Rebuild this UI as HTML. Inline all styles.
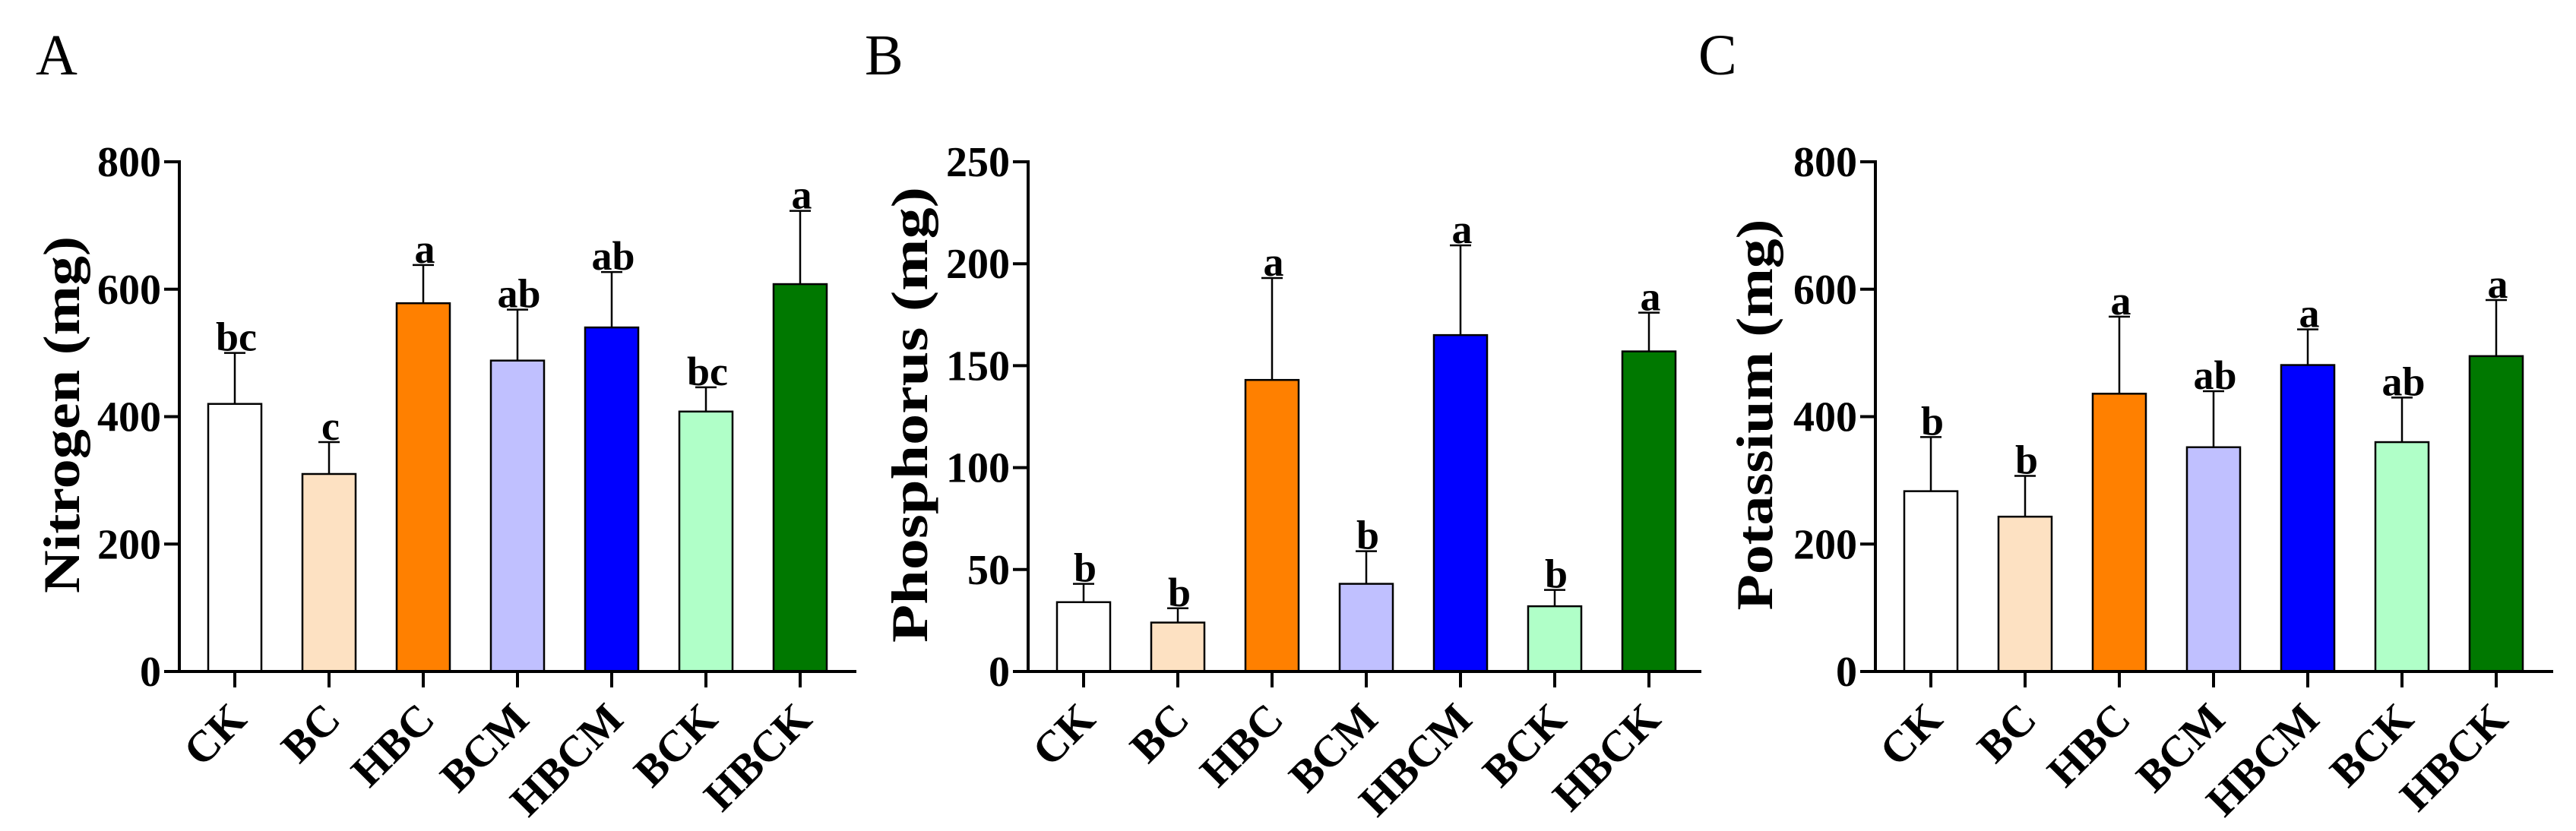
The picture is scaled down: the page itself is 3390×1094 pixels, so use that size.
<!DOCTYPE html>
<html><head><meta charset="utf-8"><style>
html,body{margin:0;padding:0;background:#fff;}
svg{display:block;font-family:"Liberation Serif",serif;}
</style></head><body>
<svg id="chart" width="3390" height="1094" viewBox="0 0 3390 1094" xmlns="http://www.w3.org/2000/svg"></svg>
<script>
const categories = ["CK","BC","HBC","BCM","HBCM","BCK","HBCK"];
const colors = ["#ffffff","#fde1c2","#ff8000","#c0c0ff","#0000ff","#b0ffc8","#007800"];
const nitrogenValues = [420,310,578,488,540,408,608];
const nitrogenErrors = [80,50,60,80,87,38,115];
const nitrogenLetters = ["bc","c","a","ab","ab","bc","a"];
const phosphorusValues = [34,24,143,43,165,32,157];
const phosphorusErrors = [9,7,50,16,44,8,19];
const phosphorusLetters = ["b","b","a","b","a","b","a"];
const potassiumValues = [283,243,436,352,481,360,495];
const potassiumErrors = [85,64,121,88,56,70,88];
const potassiumLetters = ["b","b","a","ab","a","ab","a"];
const nitrogenTicks = [0,200,400,600,800];
const phosphorusTicks = [0,50,100,150,200,250];
const potassiumTicks = [0,200,400,600,800];

const NS="http://www.w3.org/2000/svg";
const svg=document.getElementById('chart');
function mk(tag,attrs,parent){const e=document.createElementNS(NS,tag);for(const k in attrs)e.setAttribute(k,attrs[k]);(parent||svg).appendChild(e);return e;}

const panels=[
 {id:"a",letter:"A",lx:47,ax:236,end:1127,title:"Nitrogen (mg)",tx:86,len:470,vals:nitrogenValues,errs:nitrogenErrors,lets:nitrogenLetters,ticks:nitrogenTicks,max:800},
 {id:"b",letter:"B",lx:1138,ax:1353,end:2239,title:"Phosphorus (mg)",tx:1202,len:600,vals:phosphorusValues,errs:phosphorusErrors,lets:phosphorusLetters,ticks:phosphorusTicks,max:250},
 {id:"c",letter:"C",lx:2235,ax:2468,end:3360,title:"Potassium (mg)",tx:2314,len:515,vals:potassiumValues,errs:potassiumErrors,lets:potassiumLetters,ticks:potassiumTicks,max:800}
];
const y0=884,yTop=213,step=124,barW=70;
panels.forEach(p=>{
  const g=mk('g',{});
  
  
  const yS=v=>y0-(v/p.max)*(y0-yTop);
  const xS=i=>p.ax+73+i*step;
  const L=mk('text',{x:p.lx,y:98,'font-size':76},g);L.textContent=p.letter;
  
  
  p.vals.forEach((v,i)=>{
    const cx=xS(i), top=yS(v), et=yS(v+p.errs[i]);
    const eb=mk('line',{x1:cx,x2:cx,y1:top,y2:et,stroke:'#000','stroke-width':2.5},g);
    
    
    mk('line',{x1:cx-14,x2:cx+14,y1:et,y2:et,stroke:'#000','stroke-width':2.5},g);
    const r=mk('rect',{x:cx-barW/2,y:top,width:barW,height:y0-top,fill:colors[i],stroke:'#000','stroke-width':2.5},g);
    
    
    const t=mk('text',{x:cx+2,y:et-3,'font-size':54,'font-weight':'bold','text-anchor':'middle'},g);
    t.textContent=p.lets[i];
    
    
    mk('line',{x1:cx,x2:cx,y1:y0,y2:905,stroke:'#000','stroke-width':4},g);
    const xl=mk('text',{x:0,y:0,'font-size':58,'font-weight':'bold','text-anchor':'end',transform:`translate(${cx+18},${950}) rotate(-45)`},g);
    xl.textContent=categories[i];
    
    
  });
  const ya=mk('line',{x1:p.ax,x2:p.ax,y1:yTop-2,y2:y0+2,stroke:'#000','stroke-width':4},g);
  
  
  const xa=mk('line',{x1:p.ax-2,x2:p.end,y1:y0,y2:y0,stroke:'#000','stroke-width':4},g);
  
  
  p.ticks.forEach(tv=>{
    const y=yS(tv);
    mk('line',{x1:p.ax-20,x2:p.ax,y1:y,y2:y,stroke:'#000','stroke-width':4},g);
    const tl=mk('text',{x:p.ax-24,y:y+19,'font-size':56,'font-weight':'bold','text-anchor':'end'},g);
    tl.textContent=tv;
    
    
  });
  const yt=mk('text',{x:0,y:0,'font-size':68,'font-weight':'bold','text-anchor':'middle',textLength:p.len,lengthAdjust:'spacingAndGlyphs',transform:`translate(${p.tx+18},${546}) rotate(-90)`},g);
  yt.textContent=p.title;
  
  
});
</script>
</body></html>
